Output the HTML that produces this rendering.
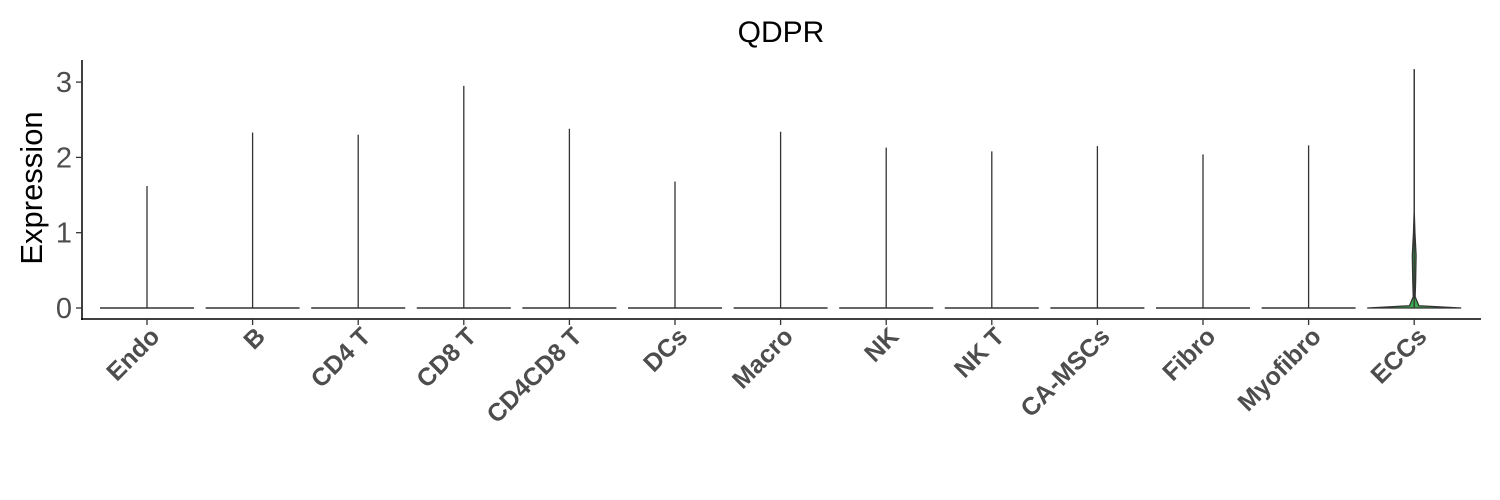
<!DOCTYPE html>
<html><head><meta charset="utf-8"><style>
body{margin:0;background:#fff}
svg{display:block;font-family:"Liberation Sans",Arial,sans-serif}
</style></head><body>
<svg id="chart" width="1500" height="500">
<text x="781" y="42" font-size="30" text-anchor="middle" fill="#000">QDPR</text>
<text transform="translate(42,188) rotate(-90)" font-size="31" text-anchor="middle" fill="#000">Expression</text>
<g id="axes"></g><g id="marks"></g>
</svg>
<script>
const categories=["Endo","B","CD4 T","CD8 T","CD4CD8 T","DCs","Macro","NK","NK T","CA-MSCs","Fibro","Myofibro","ECCs"];
const maxValues=[1.62,2.33,2.3,2.95,2.38,1.68,2.34,2.13,2.08,2.15,2.04,2.16,3.17];
const yTicks=[0,1,2,3];
// ECCs density profile: [value, relative half-width]
const eccsLevels=[0,0.03,0.15,0.35,0.7,1.0,1.3];
const eccsWidths=[1,0.1,0.02,0.03,0.04,0.015,0];
const colors=["#888","#888","#888","#888","#888","#888","#888","#888","#888","#888","#888","#888","#3daa4f"];
const NS="http://www.w3.org/2000/svg";
const y=v=>308-v*75.3;
const x=i=>147+i*105.6;
const hw=47;
const ax=document.getElementById('axes'),mk=document.getElementById('marks');
function el(t,a,p){const e=document.createElementNS(NS,t);for(const k in a)e.setAttribute(k,a[k]);p.appendChild(e);return e;}
const yl=el('line',{x1:82,x2:82,y1:60,y2:320,stroke:'#000','stroke-width':1.5},ax);


const xl=el('line',{x1:81,x2:1481,y1:319,y2:319,stroke:'#000','stroke-width':1.5},ax);


yTicks.forEach(t=>{
  el('line',{x1:76,x2:82,y1:y(t),y2:y(t),stroke:'#333','stroke-width':1.3},ax);
  const tx=el('text',{x:72,y:y(t)+10,'font-size':29,'text-anchor':'end',fill:'#4d4d4d'},ax);
  tx.textContent=t;
  
  
});
categories.forEach((c,i)=>{
  const cx=x(i);
  el('line',{x1:cx,x2:cx,y1:319,y2:325,stroke:'#333','stroke-width':1.3},ax);
  const tx=el('text',{transform:`translate(${cx+14},${338}) rotate(-45)`,'font-size':25,'font-weight':'bold','text-anchor':'end',fill:'#4d4d4d'},ax);
  tx.textContent=c;
  
  
  const g=el('g',{},mk);
  
  
  let d;
  if(c==="ECCs"){
    const pts=eccsLevels.map((v,k)=>[eccsWidths[k]*hw,y(v)]);
    const top=y(maxValues[i]);
    d=`M${cx},${top} `+pts.slice().reverse().map(p=>`L${cx+p[0]},${p[1]}`).join(' ')+' '+pts.map(p=>`L${cx-p[0]},${p[1]}`).join(' ')+` L${cx},${top} Z`;
    el('path',{d,fill:colors[i],stroke:'#333','stroke-width':1.3},g);
  } else {
    el('path',{d:`M${cx-hw},${y(0)} L${cx+hw},${y(0)}`,stroke:'#333','stroke-width':1.5},g);
  }
  el('line',{x1:cx,x2:cx,y1:y(0),y2:y(maxValues[i]),stroke:'#333','stroke-width':1.3},g);
});
</script>
</body></html>
